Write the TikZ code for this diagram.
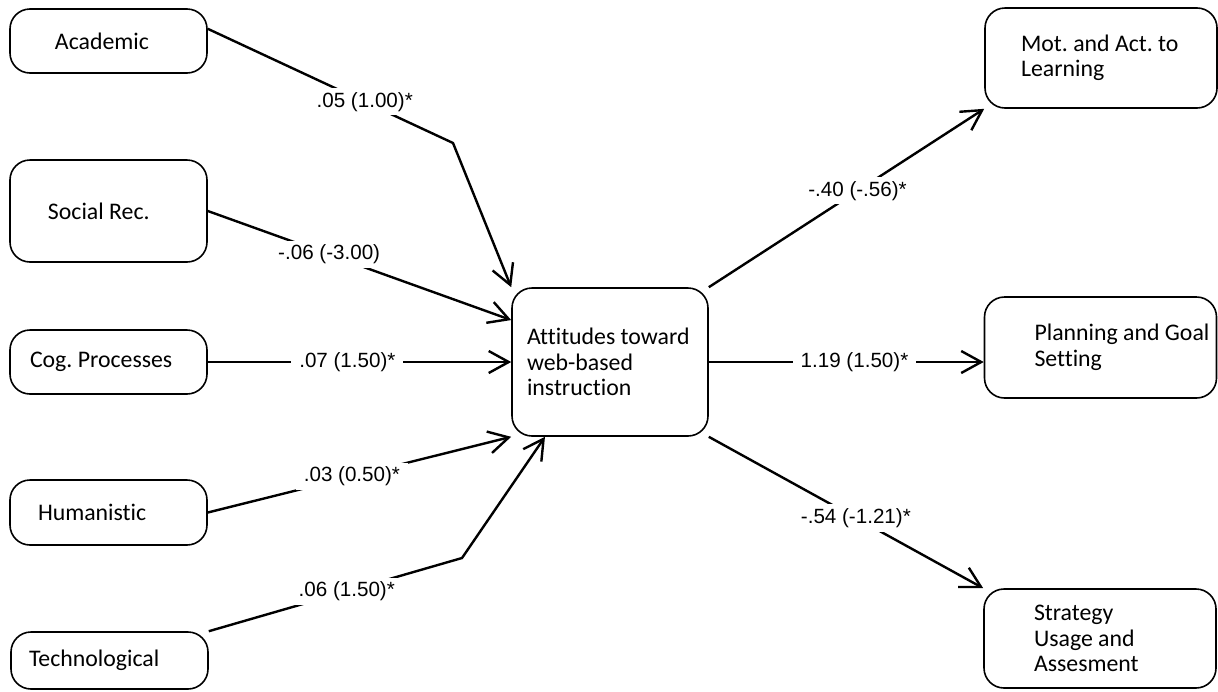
\documentclass[tikz,border=0pt]{standalone}
\usepackage{fontspec}
\setmainfont{Carlito}[Ligatures=NoCommon]
\newfontfamily\arialfont{Liberation Sans}
\usepackage{tikz}
\usetikzlibrary{arrows.meta}
\newcommand{\boxfont}{\frenchspacing\fontsize{11.9}{12.75}\selectfont}
\newcommand{\labfont}{\arialfont\fontsize{10.3}{12}\selectfont}

\begin{document}
\begin{tikzpicture}[x=0.5pt, y=-0.5pt,
  box/.style={rectangle, draw, rounded corners=10pt, line width=0.8pt,
              inner xsep=0pt, inner ysep=0pt, align=flush left, font=\boxfont},
  inset/.style={execute at begin node={\leftskip=#1\relax}},
  lbox/.style={box, text width=98.5pt, minimum width=98.5pt},
  rbox/.style={box, text width=116pt, minimum width=116pt},
  lab/.style={fill=white, inner xsep=4pt, inner ysep=2pt, font=\labfont},
  arrow/.style={-{Straight Barb[length=10pt,width=11pt]}, line width=1.2pt}]

  \useasboundingbox (0,0) rectangle (1218,691);

  \node[lbox, minimum height=32pt, inset=22.5pt]   (P1) at (108.5,41)    {Academic};
  \node[lbox, minimum height=51pt, inset=19pt]     (P2) at (108.5,211)   {Social Rec.};
  \node[lbox, minimum height=32pt, inset=10pt]     (P3) at (108.5,362)   {Cog. Processes};
  \node[lbox, minimum height=32.5pt, inset=14pt]   (P4) at (108.5,512.5) {Humanistic};
  \node[lbox, minimum height=28.5pt, inset=9pt]    (P5) at (109.5,660.5) {Technological};

  \node[box, text width=98pt, minimum width=98pt, minimum height=74pt, inset=7.5pt]
       (C) at (610,362) {Attitudes toward\\web-based\\instruction};

  \node[rbox, minimum height=50pt, inset=18pt]   (O1) at (1101,58)     {Mot. and Act. to\\Learning};
  \node[rbox, minimum height=50.5pt, inset=25pt] (O2) at (1100.5,347.5) {Planning and Goal\\Setting};
  \node[rbox, minimum height=49.5pt, inset=25pt] (O3) at (1100,638.5)  {Strategy\\Usage and\\Assesment};

  \coordinate (k1) at (453,143);
  \coordinate (k2) at (462,558);

  \draw[arrow] (P1.7) -- node[lab, pos=0.64] {.05 (1.00)*} (k1) -- (C.north west);
  \draw[arrow] (P2.east) -- node[lab, pos=0.4] {-.06 (-3.00)} (C.157);
  \draw[arrow] (P3.east) -- node[lab, pos=0.46] {.07 (1.50)*} (C.west);
  \draw[arrow] (P4.east) -- node[lab, pos=0.475] {.03 (0.50)*} (C.south west);
  \draw[arrow] (P5.north east) -- node[lab, pos=0.545] {.06 (1.50)*} (k2) -- (C.229);

  \draw[arrow] (C.north east) -- node[lab, pos=0.54] {-.40 (-.56)*} (O1.south west);
  \draw[arrow] (C.east) -- node[lab, pos=0.53] {1.19 (1.50)*} (C.east -| O2.west);
  \draw[arrow] (C.south east) -- node[lab, pos=0.536] {-.54 (-1.21)*} (O3.north west);
\end{tikzpicture}
\end{document}
